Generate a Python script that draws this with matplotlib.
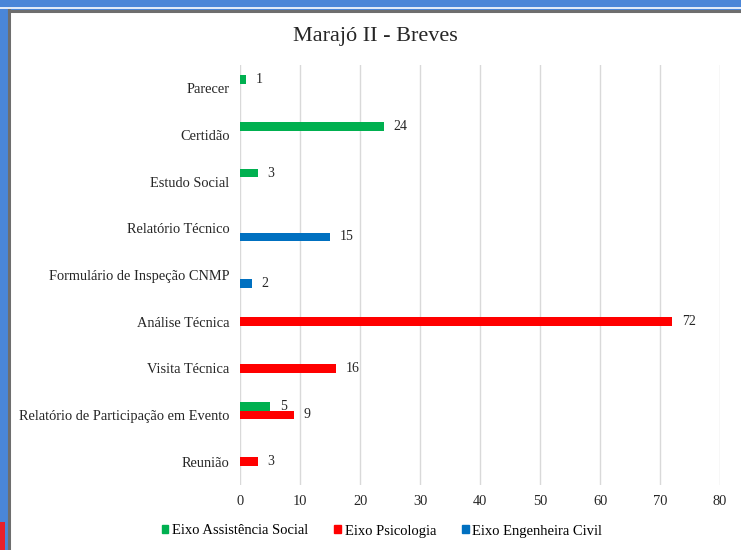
import matplotlib.pyplot as plt
import matplotlib.patches as mpatches
from matplotlib.lines import Line2D
import numpy as np

categories = ['Parecer', 'Certidão', 'Estudo Social', 'Relatório Técnico',
              'Formulário de Inspeção CNMP', 'Análise Técnica', 'Visita Técnica',
              'Relatório de Participação em Evento', 'Reunião']
social = [1, 24, 3, None, None, None, None, 5, None]
psicologia = [None, None, None, None, None, 72, 16, 9, 3]
engenharia = [None, None, None, 15, 2, None, None, None, None]
series_names = ['Eixo Assistência Social', 'Eixo Psicologia', 'Eixo Engenheira Civil']
colors = ['#00b050', '#ff0000', '#0070c0']

plt.rcParams['font.family'] = ['Liberation Serif', 'DejaVu Serif']

fig = plt.figure(figsize=(7.41, 5.50), dpi=100)
fig.patch.set_facecolor('#4a86d8')

# white panel with grey frame on left / top
W, H = 741, 550
fig.patches.append(mpatches.Rectangle((10 / W, 0), 1, 1 - 12 / H, transform=fig.transFigure,
                                      facecolor='white', edgecolor='none', zorder=-10))
fig.lines.append(Line2D([9 / W, 9 / W], [0, 1 - 10 / H], transform=fig.transFigure,
                        color='#6e6e6e', lw=2.2))
fig.lines.append(Line2D([9 / W, 1], [1 - 10.5 / H, 1 - 10.5 / H], transform=fig.transFigure,
                        color='#6e6e6e', lw=2.2))
fig.lines.append(Line2D([0, 1], [1 - 8 / H, 1 - 8 / H], transform=fig.transFigure,
                        color='white', lw=1.2))
fig.patches.append(mpatches.Rectangle((0, 0), 5 / W, 28 / H, transform=fig.transFigure,
                                      facecolor='#e8202a', edgecolor='none', zorder=1))

ax = fig.add_axes([240 / W, 1 - 485 / H, 480 / W, 420 / H])
ax.set_facecolor('white')

y = np.arange(len(categories))
h = 0.185
offsets = [-h, 0, h]
for vals, off, c, name in zip([social, psicologia, engenharia], offsets, colors, series_names):
    for i, v in enumerate(vals):
        if v is None:
            continue
        ax.barh(y[i] + off, v, height=h, color=c, zorder=3)
        ax.annotate(str(v), (v, y[i] + off), xytext=(7, 0), textcoords='offset points',
                    va='center', ha='left', fontsize=10, color='#262626')

ax.set_xlim(0, 80)
ax.set_ylim(len(categories) - 0.5, -0.5)
ax.set_xticks(range(0, 81, 10))
ax.set_yticks(y)
ax.set_yticklabels(categories)
ax.tick_params(axis='both', length=0, labelsize=10.4, colors='#262626')
ax.tick_params(axis='y', pad=7.5)
ax.tick_params(axis='x', pad=7)
ax.grid(axis='x', color='#d9d9d9', lw=1, zorder=0)
for s in ax.spines.values():
    s.set_visible(False)

fig.text(375 / W, 1 - 37 / H, 'Marajó II - Breves', ha='center', va='center',
         fontsize=16, color='#262626')

handles = [mpatches.Patch(color=c) for c in colors]
fig.legend(handles, series_names, loc='center', bbox_to_anchor=(382 / W, 1 - 531 / H),
           ncol=3, frameon=False, fontsize=10.5, handlelength=0.45, handleheight=0.45,
           handletextpad=0.25, columnspacing=1.8)

fig.savefig('out.png', dpi=100)
